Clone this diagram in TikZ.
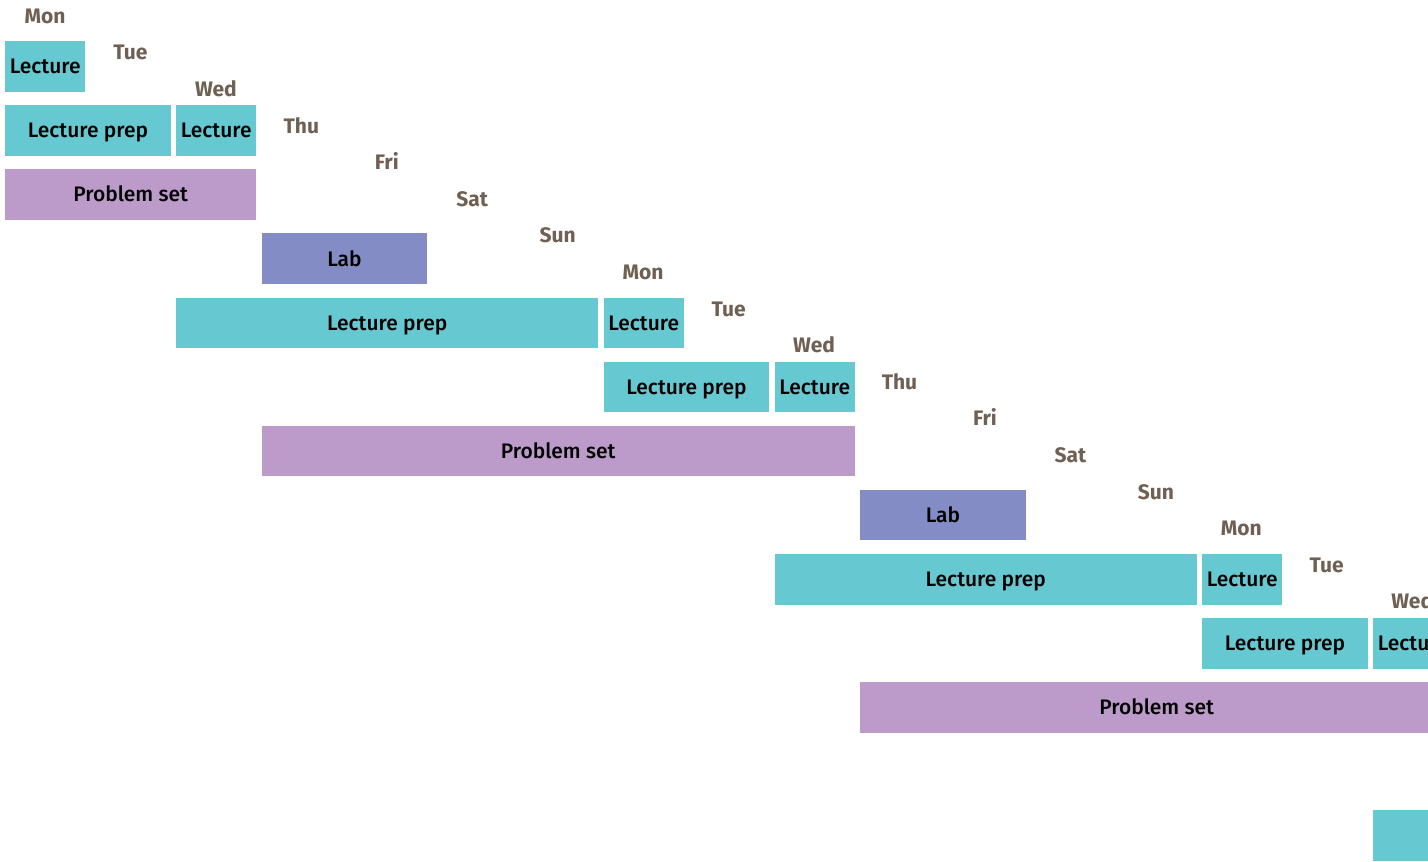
\documentclass[tikz,border=0pt]{standalone}
\usepackage{fontspec}
\setmainfont{Fira Sans}
\newfontfamily\taskfont{Fira Sans Medium}
\usepackage{tikz}

\definecolor{lecblue}{HTML}{66C8D0}
\definecolor{psetpurple}{HTML}{BC9BCA}
\definecolor{labblue}{HTML}{838CC4}
\definecolor{daybrown}{HTML}{6F6053}

\begin{document}
\begin{tikzpicture}[x=1pt,y=-1pt,
    task/.style={anchor=north west,inner sep=0pt,minimum height=50.7pt,
                 text height=14.5pt,text depth=0pt,
                 font=\taskfont\fontsize{21}{24}\selectfont,text=black},
    lec/.style={task,fill=lecblue},
    pset/.style={task,fill=psetpurple},
    lab/.style={task,fill=labblue},
    day/.style={font=\fontsize{21}{24}\selectfont\bfseries,text=daybrown,
                inner sep=0pt,text height=14.5pt,text depth=0pt}]
\fill[white] (0,0) rectangle (1428,862);
\clip (0,0) rectangle (1428,862);
% day labels, one step right and down per day
\foreach \d [count=\k from 0] in {Mon,Tue,Wed,Thu,Fri,Sat,Sun,Mon,Tue,Wed,Thu,Fri,Sat,Sun,Mon,Tue,Wed} {
    \node[day] (day\k) at ({45+85.45*\k},{16+36.6*\k}) {\d};
}
% row/column/days/kind/text
\foreach \r/\c/\n/\kind/\txt in {0/0/1/lec/Lecture,
                                 1/0/2/lec/Lecture prep,1/2/1/lec/Lecture,
                                 2/0/3/pset/Problem set,
                                 3/3/2/lab/Lab,
                                 4/2/5/lec/Lecture prep,4/7/1/lec/Lecture,
                                 5/7/2/lec/Lecture prep,5/9/1/lec/Lecture,
                                 6/3/7/pset/Problem set,
                                 7/10/2/lab/Lab,
                                 8/9/5/lec/Lecture prep,8/14/1/lec/Lecture,
                                 9/14/2/lec/Lecture prep,9/16/1/lec/Lecture,
                                 10/10/7/pset/Problem set,
                                 12/16/5/lec/Lecture prep} {
    \node[\kind,minimum width={85.5*\n-5.5}] (t\r-\c) at ({5+85.5*\c},{41+64.08*\r}) {\txt};
}
\end{tikzpicture}
\end{document}
